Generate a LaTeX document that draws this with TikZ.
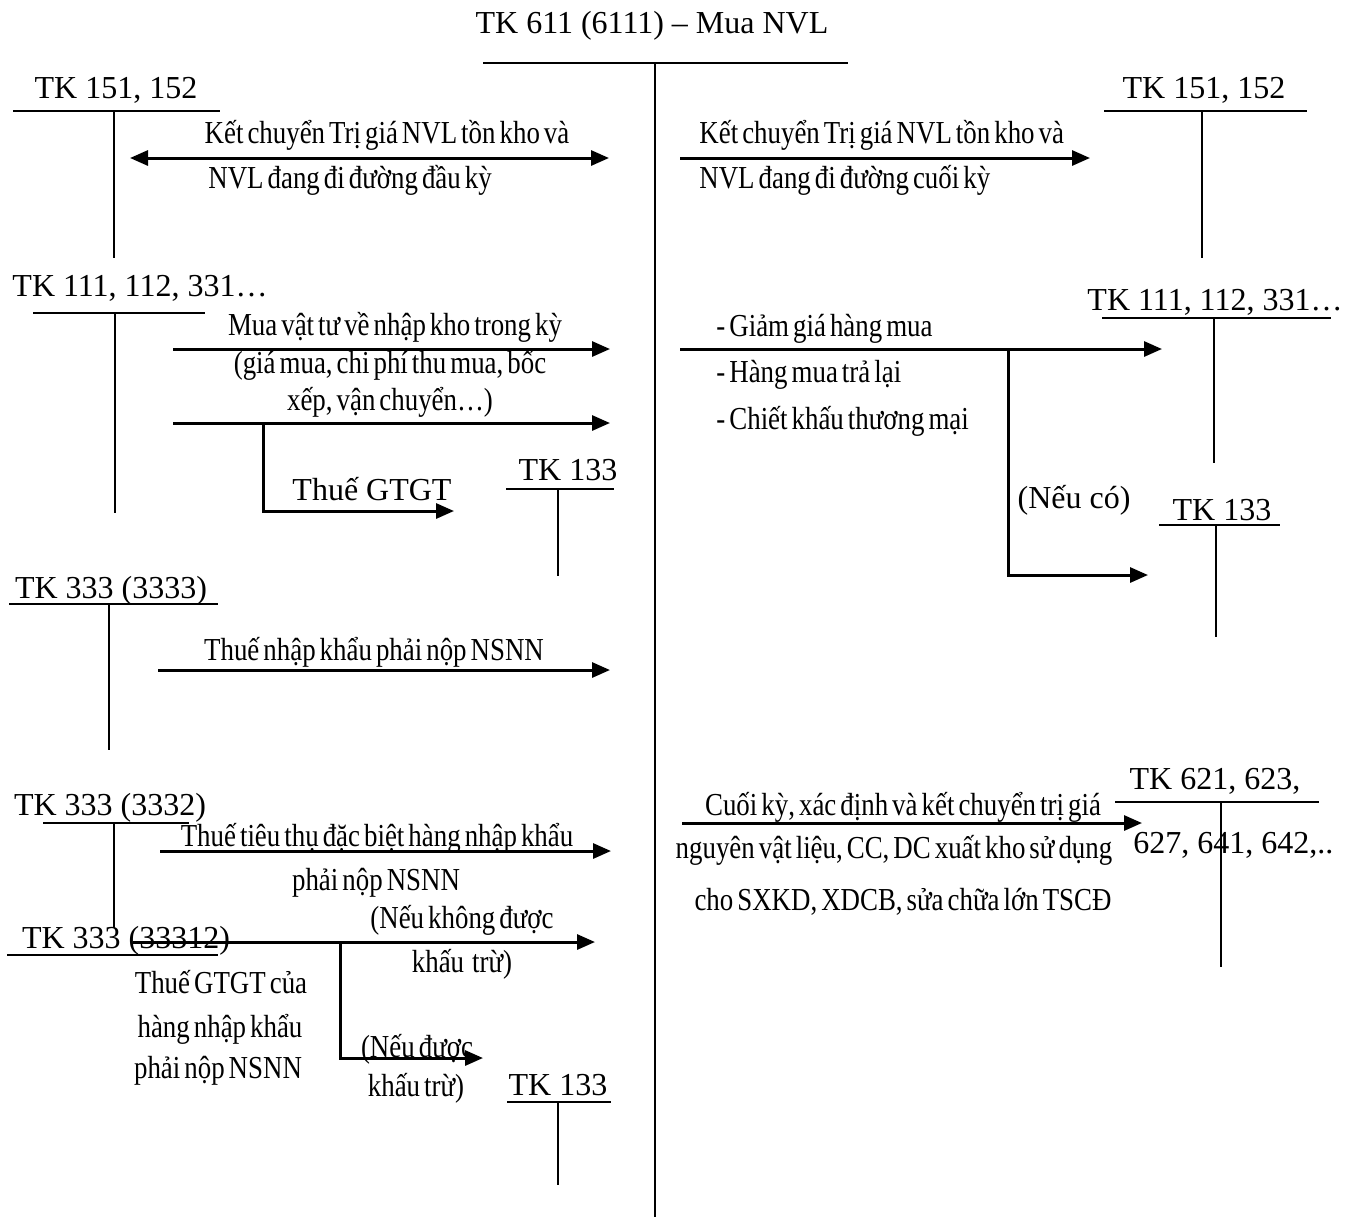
\documentclass[tikz,border=0pt]{standalone}
\usepackage{fontspec}
\setmainfont{Liberation Serif}
\newfontfamily\narrowserif{Liberation Serif}[FakeStretch=0.84,WordSpace=0.6]
\usetikzlibrary{arrows.meta}

\tikzset{
  acct/.style={font=\fontsize{16}{19}\selectfont, inner sep=0pt, anchor=base},
  note/.style={font=\narrowserif\fontsize{16}{19}\selectfont, inner sep=0pt, anchor=base},
  tline/.style={line width=0.9pt},
  flow/.style={line width=1.5pt, -{Triangle[length=9pt,width=7.5pt]}},
  flowboth/.style={line width=1.5pt, {Triangle[length=9pt,width=7.5pt]}-{Triangle[length=9pt,width=7.5pt]}},
}

\begin{document}
\begin{tikzpicture}[x=0.5pt,y=-0.5pt]
\useasboundingbox (0,0) rectangle (1353,1217);

% ---- central account TK 611
\node[acct] (main) at (652,33) {TK 611 (6111) – Mua NVL};
\draw[tline] (483,63) -- (848,63);
\draw[tline] (655,63) -- (655,1217);

% ---- TK 151, 152 (left) : opening balance transfer
\node[acct] (a151L) at (116,98) {TK 151, 152};
\draw[tline] (13,111) -- (220,111);
\draw[tline] (114,111) -- (114,258);
\coordinate (k1s) at (130,158);
\coordinate (k1e) at (609,158);
\draw[flowboth] (k1s) -- (k1e);
\node[note] (k1a) at (387,143) {Kết chuyển Trị giá NVL tồn kho và};
\node[note, anchor=base west] (k1b) at (208,188) {NVL đang đi đường đầu kỳ};

% ---- TK 151, 152 (right) : closing balance transfer
\node[acct] (a151R) at (1204,98) {TK 151, 152};
\draw[tline] (1104,111) -- (1307,111);
\draw[tline] (1202,111) -- (1202,258);
\coordinate (k2s) at (680,158);
\coordinate (k2e) at (1090,158);
\draw[flow] (k2s) -- (k2e);
\node[note, anchor=base west] (k2a) at (699,143) {Kết chuyển Trị giá NVL tồn kho và};
\node[note, anchor=base west] (k2b) at (699,188) {NVL đang đi đường cuối kỳ};

% ---- TK 111, 112, 331 (left) : purchases
\node[acct] (a111L) at (140,296) {TK 111, 112, 331…};
\draw[tline] (33,313) -- (205,313);
\draw[tline] (115,313) -- (115,513);
\coordinate (p1s) at (173,349);
\coordinate (p1e) at (610,349);
\draw[flow] (p1s) -- (p1e);
\node[note] (p1a) at (395,335) {Mua vật tư về nhập kho trong kỳ};
\node[note] (p1b) at (390,373) {(giá mua, chi phí thu mua, bốc};
\node[note] (p1c) at (390,410) {xếp, vận chuyển…)};
\coordinate (p2s) at (173,423);
\coordinate (p2e) at (610,423);
\draw[flow] (p2s) -- (p2e);
\coordinate (v1s) at (263,423);
\coordinate (v1e) at (454,511);
\draw[flow] (v1s) |- (v1e);
\node[acct] (v1l) at (372,500) {Thuế GTGT};

% ---- TK 133 (left, upper)
\node[acct] (a133a) at (568,480) {TK 133};
\draw[tline] (506,489) -- (614,489);
\draw[tline] (558,489) -- (558,576);

% ---- TK 333 (3333) : import duty
\node[acct] (a3333) at (111,598) {TK 333 (3333)};
\draw[tline] (9,604) -- (218,604);
\draw[tline] (109,604) -- (109,750);
\coordinate (i1s) at (158,670);
\coordinate (i1e) at (610,670);
\draw[flow] (i1s) -- (i1e);
\node[note] (i1l) at (374,660) {Thuế nhập khẩu phải nộp NSNN};

% ---- TK 333 (3332) : special consumption tax
\node[acct] (a3332) at (110,815) {TK 333 (3332)};
\draw[tline] (43,823) -- (189,823);
\draw[tline] (114,823) -- (114,928);
\coordinate (s1s) at (160,851);
\coordinate (s1e) at (611,851);
\draw[flow] (s1s) -- (s1e);
\node[note] (s1a) at (377,846) {Thuế tiêu thụ đặc biệt hàng nhập khẩu};
\node[note] (s1b) at (376,890) {phải nộp NSNN};

% ---- TK 333 (33312) : VAT on imports
\node[acct] (a33312) at (126,948) {TK 333 (33312)};
\draw[tline] (7,955) -- (218,955);
\coordinate (g1s) at (133,942);
\coordinate (g1e) at (595,942);
\draw[flow] (g1s) -- (g1e);
\node[note] (g1a) at (462,928) {(Nếu không được};
\node[note] (g1b) at (462,972) {khấu~ trừ)};
\coordinate (g2s) at (340,942);
\coordinate (g2e) at (483,1058);
\draw[flow] (g2s) |- (g2e);
\node[note] (g2a) at (417,1057) {(Nếu được};
\node[note] (g2b) at (416,1096) {khấu trừ)};
\node[note] (g0a) at (221,993) {Thuế GTGT của};
\node[note] (g0b) at (220,1037) {hàng nhập khẩu};
\node[note] (g0c) at (218,1078) {phải nộp NSNN};

% ---- TK 133 (left, lower)
\node[acct] (a133c) at (558,1095) {TK 133};
\draw[tline] (507,1102) -- (611,1102);
\draw[tline] (558,1102) -- (558,1185);

% ---- right side : discounts and returns
\coordinate (r1s) at (680,349);
\coordinate (r1e) at (1162,349);
\draw[flow] (r1s) -- (r1e);
\coordinate (r2s) at (1008,349);
\coordinate (r2e) at (1148,575);
\draw[flow] (r2s) |- (r2e);
\node[note, anchor=base west] (r1a) at (716,336) {- Giảm giá hàng mua};
\node[note, anchor=base west] (r1b) at (716,382) {- Hàng mua trả lại};
\node[note, anchor=base west] (r1c) at (716,429) {- Chiết khấu thương mại};
\node[acct] (r2l) at (1074,508) {(Nếu có)};

\node[acct] (a111R) at (1215,310) {TK 111, 112, 331…};
\draw[tline] (1102,318) -- (1331,318);
\draw[tline] (1214,318) -- (1214,463);

\node[acct] (a133b) at (1222,520) {TK 133};
\draw[tline] (1159,525) -- (1280,525);
\draw[tline] (1216,525) -- (1216,637);

% ---- right side : materials issued to production
\node[acct] (a621) at (1215,789) {TK 621, 623,};
\draw[tline] (1115,802) -- (1319,802);
\draw[tline] (1221,802) -- (1221,967);
\node[acct, anchor=base west] (a621b) at (1133,853) {627, 641, 642,..};
\coordinate (c1s) at (682,823);
\coordinate (c1e) at (1142,823);
\draw[flow] (c1s) -- (c1e);
\node[note] (c1a) at (903,815) {Cuối kỳ, xác định và kết chuyển trị giá};
\node[note] (c1b) at (894,858) {nguyên vật liệu, CC, DC xuất kho sử dụng};
\node[note] (c1c) at (903,910) {cho SXKD, XDCB, sửa chữa lớn TSCĐ};
\end{tikzpicture}
\end{document}
